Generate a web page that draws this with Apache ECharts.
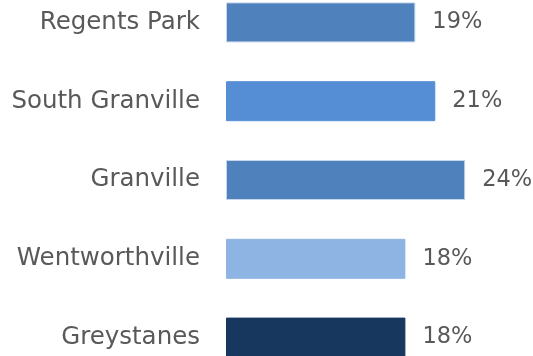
<!DOCTYPE html>
<html>
<head>
<meta charset="utf-8">
<script src="https://cdn.jsdelivr.net/npm/echarts@6/dist/echarts.min.js"></script>
<style>
  html, body { margin: 0; padding: 0; background: #ffffff; overflow: hidden; width: 533px; height: 356px; }
  /* The plot area runs a little past the top and bottom edges of the view */
  #chart { position: absolute; left: 0; top: -17px; width: 533px; height: 394px; }
</style>
</head>
<body>
<div id="chart"></div>
<script>
// Share of residents by suburb (percent)
const suburbs = ['Regents Park', 'South Granville', 'Granville', 'Wentworthville', 'Greystanes'];
const shares = [19, 21, 24, 18, 18];
const barColors = ['#4F81BD', '#558ED5', '#4F81BD', '#8EB4E3', '#17375E'];
const barBorders = ['#C5D5EB', '#558ED5', '#C5D5EB', '#8EB4E3', '#17375E'];

const textColor = '#595959';
const fontFamily = '"DejaVu Sans", sans-serif';

const chart = echarts.init(document.getElementById('chart'), null, { renderer: 'canvas' });

chart.setOption({
  animation: false,
  backgroundColor: '#ffffff',
  grid: { left: 226, right: 8, top: 0, bottom: 0, containLabel: false },
  xAxis: {
    type: 'value',
    min: 0,
    max: 30,
    show: false,
    splitLine: { show: false }
  },
  yAxis: {
    type: 'category',
    data: suburbs,
    inverse: true,
    axisLine: { show: false },
    axisTick: { show: false },
    splitLine: { show: false },
    axisLabel: {
      margin: 26,
      color: textColor,
      fontFamily: fontFamily,
      fontSize: 24.5
    }
  },
  series: [{
    type: 'bar',
    barWidth: 40,
    data: shares.map((v, i) => ({
      value: v,
      itemStyle: { color: barColors[i], borderColor: barBorders[i], borderWidth: 1 }
    })),
    label: {
      show: true,
      position: 'right',
      distance: 17,
      color: textColor,
      fontFamily: fontFamily,
      fontSize: 22.5,
      formatter: p => p.value + '%'
    }
  }]
});
</script>
</body>
</html>
